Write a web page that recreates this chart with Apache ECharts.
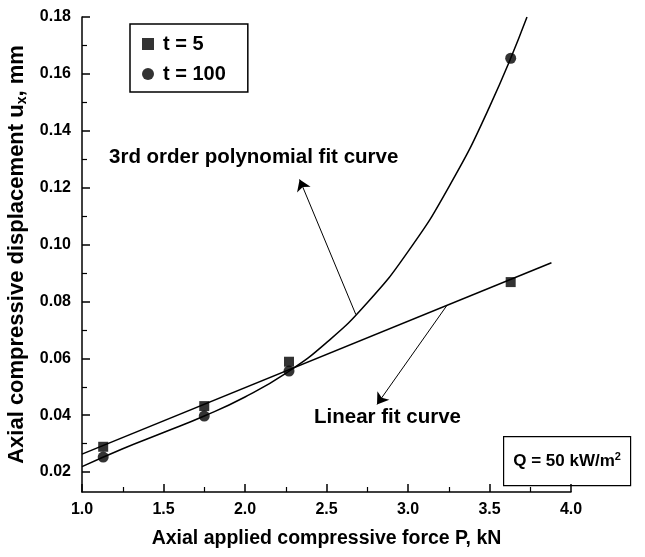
<!DOCTYPE html>
<html>
<head>
<meta charset="utf-8">
<script src="https://cdn.jsdelivr.net/npm/echarts@6/dist/echarts.min.js"></script>
<style>
  html, body { margin: 0; padding: 0; background: #fff; }
  #chart { width: 645px; height: 557px; }
</style>
</head>
<body>
<div id="chart"></div>
<script>
// Axial applied compressive force P (kN) at the measured load steps
const forceP = [1.13, 1.75, 2.27, 3.63];
// Axial compressive displacement u_x (mm) at t = 5 and t = 100
const dispT5 = [0.0289, 0.0432, 0.0588, 0.0868];
const dispT100 = [0.0253, 0.0397, 0.0555, 0.1655];

// Linear fit line through the t = 5 points (end points)
const linearFitP = [1.0, 3.88];
const linearFitU = [0.0263, 0.0936];

// 3rd order polynomial fit curve through the t = 100 points
const polyFitP = [1.0, 1.25, 1.5, 1.75, 2.0, 2.25, 2.5, 2.75, 3.0, 3.25, 3.5, 3.73];
const polyFitU = [0.0219, 0.0282, 0.0339, 0.0397, 0.0464, 0.0547, 0.0655, 0.0795, 0.0975, 0.1202, 0.1484, 0.1800];

// Axis ticks
const yMajorTicks = [0.02, 0.04, 0.06, 0.08, 0.10, 0.12, 0.14, 0.16, 0.18];
const yMinorTicks = [0.03, 0.05, 0.07, 0.09, 0.11, 0.13, 0.15, 0.17];

// Annotation arrows: [tail on the curve, head near the caption]
const polyArrow = [[2.68, 0.0754], [2.335, 0.1229]];
const linearArrow = [[3.24, 0.0787], [2.81, 0.0438]];

const FONT = "'Liberation Sans', Arial, Helvetica, sans-serif";
const pairs = (xs, ys) => xs.map((x, i) => [x, ys[i]]);

const chart = echarts.init(document.getElementById('chart'), null, { renderer: 'canvas' });

function arrowMarkLine(ends) {
  return {
    silent: true, animation: false,
    label: { show: false },
    lineStyle: { color: '#000', width: 1, type: 'solid' },
    itemStyle: { color: '#000' },
    data: [[
      { coord: ends[0], symbol: 'none', symbolSize: 0 },
      { coord: ends[1], symbol: 'arrow', symbolSize: 11, itemStyle: { color: '#000' } }
    ]]
  };
}

chart.setOption({
  animation: false,
  backgroundColor: '#fff',
  grid: { left: 82, right: 74, top: 17, bottom: 65, containLabel: false, outerBoundsMode: 'none' },
  legend: {
    orient: 'vertical',
    left: 130, top: 24,
    padding: [10, 22, 8, 12],
    itemGap: 10,
    itemWidth: 12, itemHeight: 12,
    borderColor: '#000', borderWidth: 1.5,
    textStyle: { fontFamily: FONT, fontWeight: 'bold', fontSize: 20, color: '#000', padding: [0, 0, 0, 4] },
    data: [
      { name: 't = 5', icon: 'rect' },
      { name: 't = 100', icon: 'circle' }
    ]
  },
  xAxis: {
    type: 'value',
    min: 1.0, max: 4.0, interval: 0.5,
    axisLine: { show: true, lineStyle: { color: '#000', width: 1.5 } },
    axisTick: { show: true, inside: true, length: 8, lineStyle: { color: '#000', width: 1.5 } },
    minorTick: { show: true, splitNumber: 2, length: 5, lineStyle: { color: '#000', width: 1.2 } },
    splitLine: { show: false },
    axisLabel: {
      margin: 10, color: '#000', fontFamily: FONT, fontWeight: 'bold', fontSize: 16,
      formatter: v => v.toFixed(1)
    },
    name: 'Axial applied compressive force P, kN',
    nameLocation: 'middle', nameGap: 37,
    nameTextStyle: { color: '#000', fontFamily: FONT, fontWeight: 'bold', fontSize: 19.5 }
  },
  yAxis: [
    {
      type: 'value', position: 'left',
      min: 0.013, max: 0.18,
      axisLine: { show: true, onZero: false, lineStyle: { color: '#000', width: 1.5 } },
      axisTick: { show: true, inside: true, length: 8, customValues: yMajorTicks, lineStyle: { color: '#000', width: 1.5 } },
      splitLine: { show: false },
      axisLabel: {
        margin: 11, color: '#000', fontFamily: FONT, fontWeight: 'bold', fontSize: 16,
        customValues: yMajorTicks,
        formatter: v => v.toFixed(2)
      },
      name: 'Axial compressive displacement u{sub|x}, mm',
      nameLocation: 'middle', nameGap: 50, nameRotate: 90,
      nameTextStyle: {
        color: '#000', fontFamily: FONT, fontWeight: 'bold', fontSize: 22,
        rich: { sub: { fontFamily: FONT, fontWeight: 'bold', fontSize: 14, verticalAlign: 'bottom', padding: [10, 0, 0, 0] } }
      }
    },
    {
      type: 'value', position: 'left',
      min: 0.013, max: 0.18,
      axisLine: { show: false },
      axisTick: { show: true, inside: true, length: 5, customValues: yMinorTicks, lineStyle: { color: '#000', width: 1.2 } },
      splitLine: { show: false },
      axisLabel: { show: false }
    }
  ],
  series: [
    {
      name: 'Linear fit', type: 'line', yAxisIndex: 0,
      data: pairs(linearFitP, linearFitU),
      showSymbol: false, silent: true,
      lineStyle: { color: '#000', width: 1.5 },
      itemStyle: { color: '#000' },
      markLine: arrowMarkLine(linearArrow)
    },
    {
      name: 'Polynomial fit', type: 'line', yAxisIndex: 0,
      data: pairs(polyFitP, polyFitU),
      smooth: true, showSymbol: false, silent: true,
      lineStyle: { color: '#000', width: 1.5 },
      itemStyle: { color: '#000' },
      markLine: arrowMarkLine(polyArrow)
    },
    {
      name: 't = 5', type: 'scatter', yAxisIndex: 0,
      data: pairs(forceP, dispT5),
      symbol: 'rect', symbolSize: 10,
      itemStyle: { color: '#000' }
    },
    {
      name: 't = 100', type: 'scatter', yAxisIndex: 0,
      data: pairs(forceP, dispT100),
      symbol: 'circle', symbolSize: 11,
      itemStyle: { color: '#000' }
    }
  ],
  graphic: [
    {
      type: 'text', left: 109, top: 147,
      style: { text: '3rd order polynomial fit curve', fill: '#000', font: 'bold 20.5px ' + FONT }
    },
    {
      type: 'text', left: 314, top: 407,
      style: { text: 'Linear fit curve', fill: '#000', font: 'bold 20.5px ' + FONT }
    },
    {
      type: 'group', left: 503, top: 436,
      children: [
        { type: 'rect', shape: { x: 0, y: 0, width: 127, height: 49 }, style: { fill: '#fff', stroke: '#000', lineWidth: 1.2 } },
        {
          type: 'text', x: 63.5, y: 25,
          style: {
            text: 'Q = 50 kW/m{sup|2}', fill: '#000', font: 'bold 17px ' + FONT,
            align: 'center', verticalAlign: 'middle',
            rich: {
              sup: { fontFamily: FONT, fontWeight: 'bold', fontSize: 11, verticalAlign: 'top', padding: [0, 0, 10, 0] }
            }
          }
        }
      ]
    }
  ]
});
</script>
</body>
</html>
